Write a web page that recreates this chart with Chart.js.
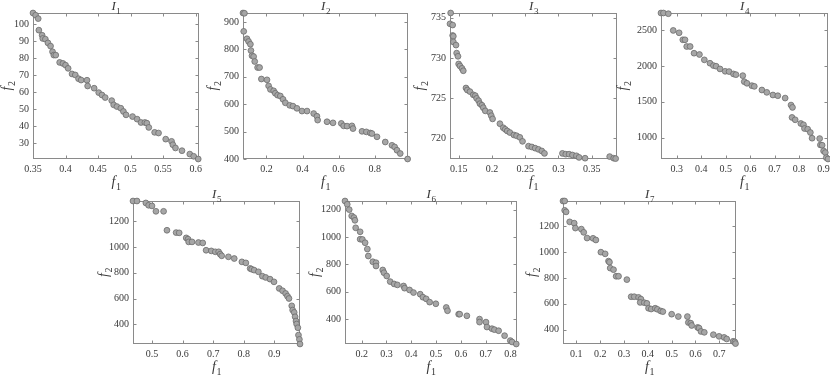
<!DOCTYPE html>
<html>
<head>
<meta charset="utf-8">
<script src="https://cdn.jsdelivr.net/npm/chart.js@4.4.1/dist/chart.umd.min.js"></script>
<style>
  html, body { margin: 0; padding: 0; background: #fff; }
  body { width: 830px; height: 375px; position: relative; overflow: hidden; }
  .panel { position: absolute; }
</style>
</head>
<body>
<script>
// Frentes de Pareto, instancias I1..I7 (f1, f2)
const i1F1 = [0.350,0.354,0.358,0.359,0.364,0.365,0.369,0.373,0.377,0.380,0.382,0.385,0.391,0.396,0.400,0.404,0.410,0.415,0.420,0.424,0.433,0.434,0.444,0.451,0.456,0.461,0.471,0.474,0.479,0.485,0.489,0.493,0.503,0.510,0.516,0.522,0.525,0.528,0.537,0.543,0.554,0.563,0.565,0.569,0.579,0.591,0.597,0.604];
const i1F2 = [106.6,105.3,103.3,96.5,93.5,91.6,91.2,89.0,87.1,83.8,81.8,81.8,77.5,76.9,75.9,74.0,70.7,70.1,67.9,67.1,67.0,63.6,62.3,59.7,58.3,56.8,55.0,52.5,51.5,50.5,48.6,46.6,45.6,44.1,42.1,42.1,41.7,39.2,36.3,35.9,32.3,31.0,29.0,27.1,25.5,23.5,22.2,20.6];
const i1XTicks = [0.35, 0.4, 0.45, 0.5, 0.55, 0.6];
const i1YTicks = [30, 40, 50, 60, 70, 80, 90, 100];

const i2F1 = [0.070,0.078,0.074,0.092,0.101,0.111,0.114,0.120,0.129,0.135,0.151,0.162,0.172,0.203,0.212,0.222,0.240,0.249,0.262,0.277,0.292,0.305,0.329,0.347,0.369,0.397,0.425,0.462,0.480,0.484,0.536,0.569,0.615,0.628,0.647,0.674,0.680,0.730,0.754,0.776,0.785,0.813,0.859,0.896,0.911,0.924,0.942,0.983];
const i2F2 = [933,932,866,839,829,819,796,777,774,756,734,734,692,689,667,654,649,640,633,630,618,605,596,593,585,575,575,566,556,542,536,532,530,521,520,521,511,501,499,495,493,481,462,450,444,432,420,400];
const i2XTicks = [0.2, 0.4, 0.6, 0.8];
const i2YTicks = [400, 500, 600, 700, 800, 900];

const i3F1 = [0.138,0.137,0.141,0.141,0.142,0.142,0.146,0.147,0.149,0.150,0.152,0.155,0.157,0.161,0.163,0.167,0.172,0.175,0.177,0.180,0.182,0.185,0.187,0.190,0.197,0.199,0.201,0.212,0.217,0.220,0.223,0.227,0.233,0.237,0.242,0.246,0.255,0.260,0.265,0.270,0.275,0.279,0.306,0.311,0.316,0.321,0.327,0.331,0.340,0.377,0.383,0.386];
const i3F2 = [735.6,734.25,734.1,732.8,732.7,732.0,731.6,730.6,730.2,729.25,729.0,728.7,728.4,726.25,726.0,725.8,725.4,725.3,724.96,724.67,724.3,724.1,723.8,723.4,723.2,722.8,722.4,721.8,721.3,721.1,720.9,720.7,720.4,720.3,720.1,719.6,719.0,718.9,718.75,718.6,718.4,718.1,718.1,718.0,718.0,717.9,717.8,717.6,717.5,717.7,717.5,717.45];
const i3XTicks = [0.15, 0.2, 0.25, 0.3, 0.35];
const i3YTicks = [720, 725, 730, 735];

const i4F1 = [0.236,0.246,0.266,0.286,0.310,0.325,0.334,0.341,0.355,0.371,0.393,0.413,0.436,0.450,0.461,0.477,0.498,0.514,0.532,0.542,0.570,0.576,0.587,0.607,0.617,0.648,0.668,0.693,0.713,0.743,0.767,0.773,0.771,0.784,0.807,0.818,0.822,0.835,0.846,0.853,0.884,0.887,0.894,0.900,0.907,0.911,0.918];
const i4F2 = [2744,2744,2734,2500,2467,2369,2369,2275,2275,2181,2163,2088,2041,2008,1999,1961,1928,1924,1891,1881,1867,1783,1760,1727,1717,1666,1633,1596,1586,1553,1455,1422,1282,1249,1197,1179,1127,1118,1071,991,986,897,893,813,790,719,700];
const i4XTicks = [0.3, 0.4, 0.5, 0.6, 0.7, 0.8, 0.9];
const i4YTicks = [1000, 1500, 2000, 2500];

const i5F1 = [0.438,0.451,0.480,0.489,0.500,0.513,0.538,0.549,0.579,0.589,0.612,0.618,0.620,0.631,0.652,0.666,0.677,0.694,0.707,0.718,0.723,0.728,0.750,0.769,0.794,0.807,0.821,0.826,0.834,0.848,0.861,0.872,0.886,0.899,0.916,0.927,0.937,0.943,0.948,0.957,0.960,0.965,0.968,0.971,0.973,0.977,0.979,0.982,0.984];
const i5F2 = [1357,1357,1342,1324,1319,1277,1277,1130,1112,1110,1071,1061,1040,1040,1035,1032,975,970,963,963,945,932,924,911,885,877,834,828,821,808,774,764,751,730,679,661,640,619,601,544,511,493,459,426,403,374,317,284,248];
const i5XTicks = [0.5, 0.6, 0.7, 0.8, 0.9];
const i5YTicks = [400, 600, 800, 1000, 1200];

const i6F1 = [0.133,0.142,0.150,0.160,0.169,0.173,0.176,0.194,0.194,0.203,0.214,0.223,0.227,0.245,0.258,0.258,0.285,0.290,0.301,0.315,0.331,0.344,0.369,0.373,0.393,0.409,0.436,0.447,0.460,0.474,0.499,0.541,0.546,0.591,0.595,0.624,0.675,0.675,0.701,0.705,0.725,0.735,0.752,0.776,0.799,0.806,0.823];
const i6F2 = [1263,1239,1200,1154,1142,1122,1067,1038,984,982,958,912,861,819,812,788,759,739,715,674,657,650,642,626,613,594,582,560,548,524,512,485,461,436,436,424,400,378,378,342,330,323,315,279,243,233,218];
const i6XTicks = [0.2, 0.3, 0.4, 0.5, 0.6, 0.7, 0.8];
const i6YTicks = [400, 600, 800, 1000, 1200];

const i7F1 = [0.044,0.051,0.051,0.057,0.072,0.091,0.096,0.121,0.131,0.145,0.170,0.182,0.203,0.221,0.235,0.239,0.242,0.256,0.267,0.277,0.312,0.330,0.343,0.361,0.371,0.368,0.385,0.396,0.403,0.414,0.431,0.440,0.454,0.463,0.500,0.528,0.566,0.570,0.580,0.584,0.609,0.615,0.623,0.637,0.675,0.699,0.720,0.731,0.758,0.765,0.768];
const i7F2 = [1394,1394,1322,1310,1233,1223,1185,1177,1152,1108,1106,1093,999,986,930,922,876,864,813,813,787,655,655,650,637,611,609,604,566,560,566,558,545,540,520,502,502,456,451,433,418,413,387,380,362,349,341,329,311,306,293];
const i7XTicks = [0.1, 0.2, 0.3, 0.4, 0.5, 0.6, 0.7];
const i7YTicks = [400, 600, 800, 1000, 1200];

// margenes del canvas alrededor del area de datos
const YW = 45, TH = 16, RP = 6, XH = 34;
const FONT = "'Liberation Serif', 'Times New Roman', serif";
const TEXT = '#383838';

const panels = [
  { n: '1', f1: i1F1, f2: i1F2, xt: i1XTicks, yt: i1YTicks, xr: [0.35, 0.605], yr: [20.6, 106.6], left: 33, top: 13, w: 167, h: 146, yDx: 26 },
  { n: '2', f1: i2F1, f2: i2F2, xt: i2XTicks, yt: i2YTicks, xr: [0.07, 0.985], yr: [400, 933], left: 243, top: 13, w: 165, h: 146, yDx: 30 },
  { n: '3', f1: i3F1, f2: i3F2, xt: i3XTicks, yt: i3YTicks, xr: [0.137, 0.388], yr: [717.4, 735.6], left: 450, top: 13, w: 167, h: 146, yDx: 30 },
  { n: '4', f1: i4F1, f2: i4F2, xt: i4XTicks, yt: i4YTicks, xr: [0.236, 0.918], yr: [700, 2744], left: 661, top: 13, w: 167, h: 146, yDx: 38 },
  { n: '5', f1: i5F1, f2: i5F2, xt: i5XTicks, yt: i5YTicks, xr: [0.438, 0.984], yr: [248, 1357], left: 133, top: 201, w: 167, h: 143, yDx: 29 },
  { n: '6', f1: i6F1, f2: i6F2, xt: i6XTicks, yt: i6YTicks, xr: [0.133, 0.826], yr: [218, 1263], left: 345, top: 201, w: 172, h: 143, yDx: 30 },
  { n: '7', f1: i7F1, f2: i7F2, xt: i7XTicks, yt: i7YTicks, xr: [0.044, 0.77], yr: [290, 1394], left: 563, top: 201, w: 173, h: 143, yDx: 31 }
];

// texto tipo LaTeX: letra en cursiva con subindice
function drawSubText(ctx, cx, baseY, main, sub, size) {
  const subSize = Math.round(size * 0.72);
  ctx.font = `italic ${size}px ${FONT}`;
  const mw = ctx.measureText(main).width;
  ctx.font = `${subSize}px ${FONT}`;
  const sw = ctx.measureText(sub).width;
  const x0 = cx - (mw + sw) / 2;
  ctx.textAlign = 'left';
  ctx.textBaseline = 'alphabetic';
  ctx.fillStyle = TEXT;
  ctx.font = `italic ${size}px ${FONT}`;
  ctx.fillText(main, x0, baseY);
  ctx.font = `${subSize}px ${FONT}`;
  ctx.fillText(sub, x0 + mw + 0.5, baseY + size * 0.28);
}

const framePlugin = {
  id: 'frame',
  beforeDatasetsDraw(chart) {
    const { ctx, chartArea: a, scales } = chart;
    const l = Math.round(a.left) + 0.5, r = Math.round(a.right) - 0.5;
    const t = Math.round(a.top) + 0.5, b = Math.round(a.bottom) - 0.5;
    ctx.save();
    ctx.strokeStyle = '#8a8a8a';
    ctx.lineWidth = 1;
    ctx.strokeRect(l, t, r - l, b - t);
    ctx.beginPath();
    scales.x.ticks.forEach(tk => {
      const px = Math.round(scales.x.getPixelForValue(tk.value)) + 0.5;
      ctx.moveTo(px, b); ctx.lineTo(px, b - 3);
      ctx.moveTo(px, t); ctx.lineTo(px, t + 3);
    });
    scales.y.ticks.forEach(tk => {
      const py = Math.round(scales.y.getPixelForValue(tk.value)) + 0.5;
      ctx.moveTo(l, py); ctx.lineTo(l + 3, py);
      ctx.moveTo(r, py); ctx.lineTo(r - 3, py);
    });
    ctx.stroke();
    ctx.restore();
  },
  afterDraw(chart, args, opts) {
    const { ctx, chartArea: a } = chart;
    const cx = (a.left + a.right) / 2;
    ctx.save();
    drawSubText(ctx, cx, a.top - 3, 'I', opts.n, 13);
    drawSubText(ctx, cx, a.bottom + 27, 'f', '1', 14);
    ctx.translate(a.left - opts.yDx + 4, (a.top + a.bottom) / 2);
    ctx.rotate(-Math.PI / 2);
    drawSubText(ctx, 0, 0, 'f', '2', 14);
    ctx.restore();
  }
};

function crearPanel(p) {
  const div = document.createElement('div');
  div.className = 'panel';
  div.style.left = (p.left - YW) + 'px';
  div.style.top = (p.top - TH) + 'px';
  div.style.width = (p.w + YW + RP) + 'px';
  div.style.height = (p.h + TH + XH) + 'px';
  const canvas = document.createElement('canvas');
  div.appendChild(canvas);
  document.body.appendChild(div);

  const tickFont = { family: FONT, size: 10 };

  new Chart(canvas.getContext('2d'), {
    type: 'scatter',
    data: {
      datasets: [{
        data: p.f1.map((x, i) => ({ x: x, y: p.f2[i] })),
        backgroundColor: '#a6a6a6',
        borderColor: '#6c6c6c',
        borderWidth: 0.8,
        pointRadius: 2.9,
        clip: false
      }]
    },
    options: {
      responsive: true,
      maintainAspectRatio: false,
      animation: false,
      events: [],
      layout: { padding: { top: TH, right: RP, left: 0, bottom: 0 } },
      plugins: {
        legend: { display: false },
        tooltip: { enabled: false },
        frame: { n: p.n, yDx: p.yDx }
      },
      scales: {
        x: {
          type: 'linear',
          min: p.xr[0],
          max: p.xr[1],
          grid: { display: false, drawTicks: false },
          border: { display: false },
          afterBuildTicks: s => { s.ticks = p.xt.map(v => ({ value: v })); },
          afterFit: s => { s.height = XH; },
          ticks: { font: tickFont, color: TEXT, padding: 4, autoSkip: false, maxRotation: 0, callback: v => String(v) }
        },
        y: {
          type: 'linear',
          min: p.yr[0],
          max: p.yr[1],
          grid: { display: false, drawTicks: false },
          border: { display: false },
          afterBuildTicks: s => { s.ticks = p.yt.map(v => ({ value: v })); },
          afterFit: s => { s.width = YW; },
          ticks: { font: tickFont, color: TEXT, padding: 4, autoSkip: false, callback: v => String(v) }
        }
      }
    },
    plugins: [framePlugin]
  });
}

panels.forEach(crearPanel);
</script>
</body>
</html>
